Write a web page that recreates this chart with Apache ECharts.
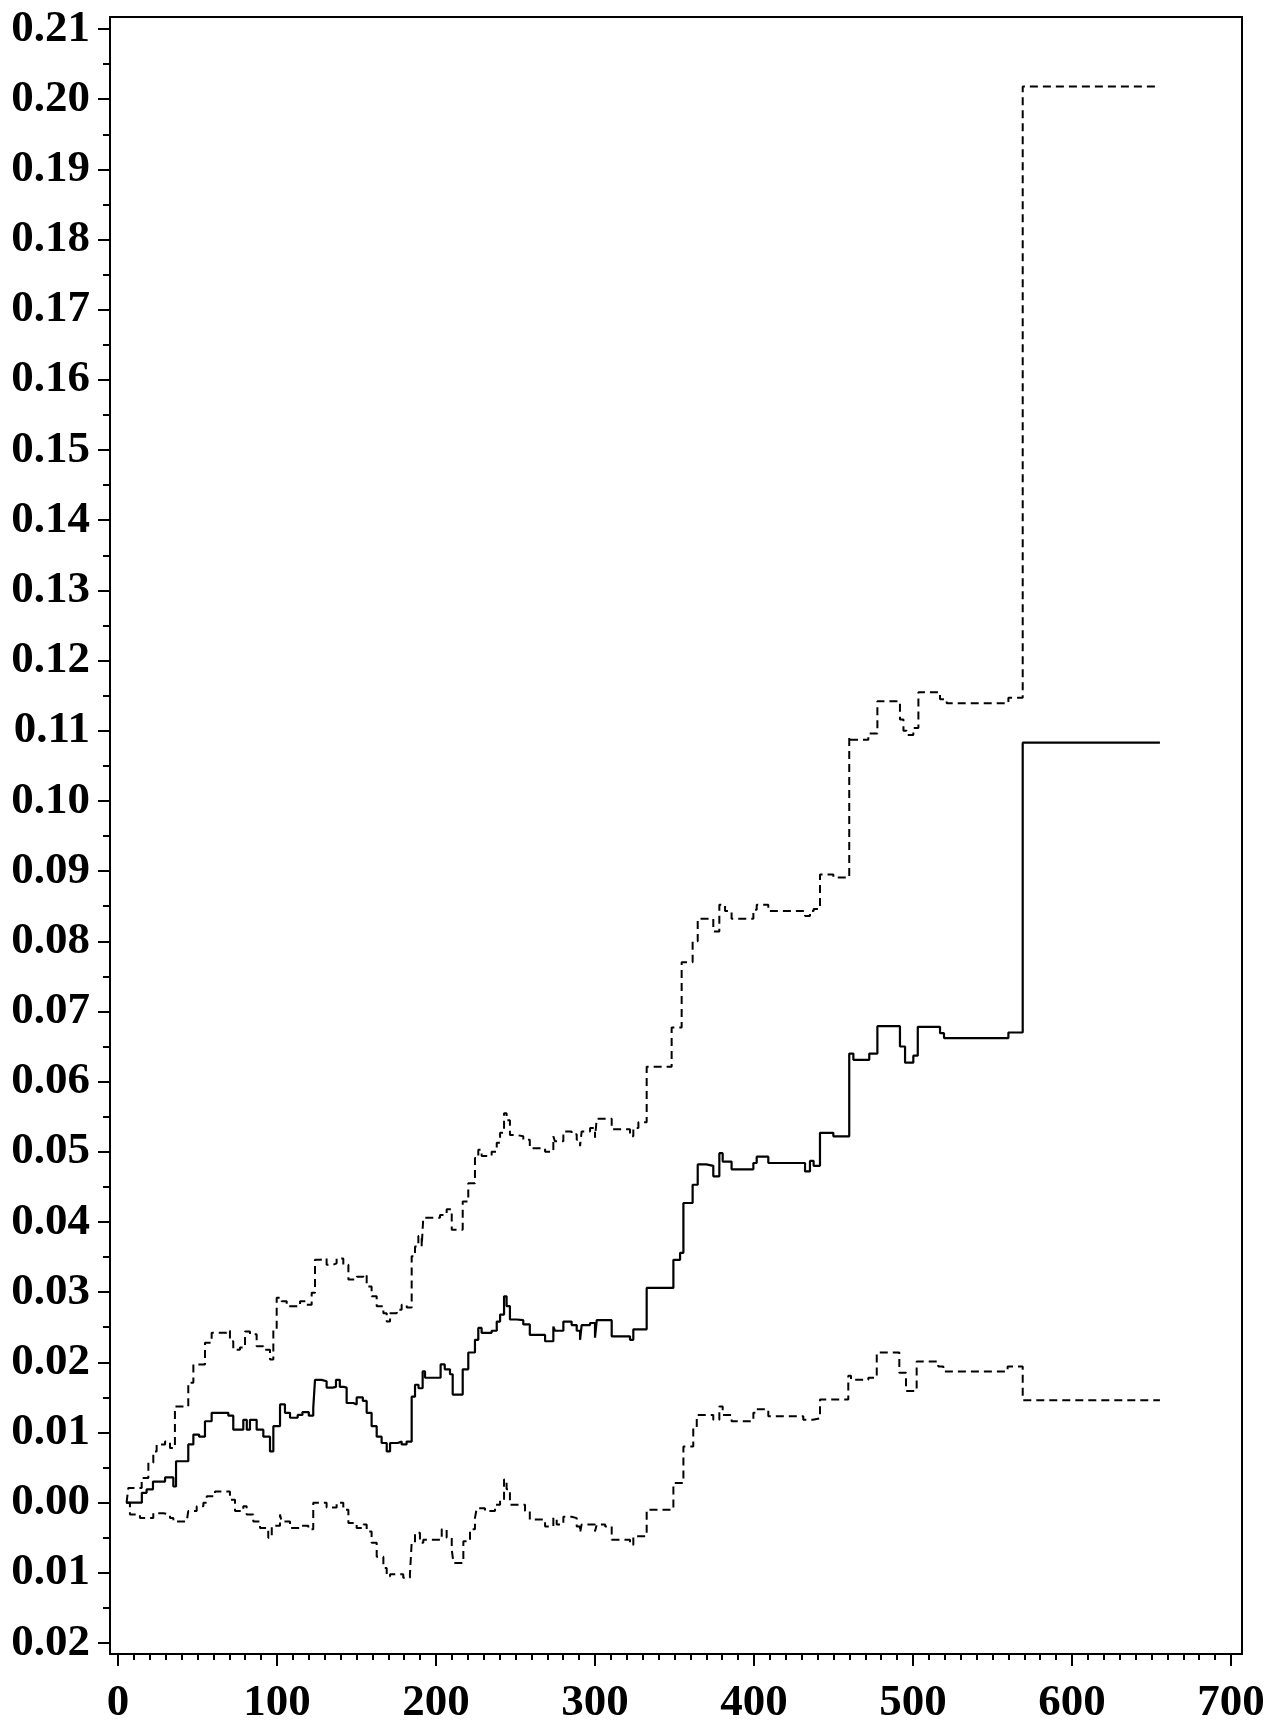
<!DOCTYPE html>
<html>
<head>
<meta charset="utf-8">
<script src="https://cdn.jsdelivr.net/npm/echarts@6/dist/echarts.min.js"></script>
<style>
html,body{margin:0;padding:0;background:#fff;}
#chart{width:1288px;height:1734px;}
</style>
</head>
<body>
<div id="chart"></div>
<script>
// x-axis range / ticks
const xMin = 0, xMax = 700, xStep = 100;
const yMin = -0.02, yMax = 0.21, yStep = 0.01;

// estimate (solid) : [time, value], value holds from time until next time
const estimate = [
  [5, 0.0000],[15, 0.0014],[18, 0.0019],[22, 0.0030],[29.6, 0.0036],[34.8, 0.0023],
  [36.5, 0.0059],[44.2, 0.0083],[47.4, 0.0097],[51, 0.0094],[54.7, 0.0116],[58.9, 0.0128],
  [69.4, 0.0124],[72.5, 0.0104],[78.8, 0.0118],[81, 0.0104],[83, 0.0118],[87.2, 0.0104],
  [91.4, 0.0094],[95.6, 0.0073],[97.7, 0.0109],[101.9, 0.0140],[105, 0.0128],[108.2, 0.0121],
  [113, 0.0125],[116, 0.0129],[120, 0.0124],[122.8, 0.0135],[123.9, 0.0175],[128, 0.0173],
  [131.2, 0.0164],[135, 0.0165],[137.1, 0.0175],[139.5, 0.0165],[142, 0.0164],[143.8, 0.0142],
  [148, 0.0140],[150.1, 0.0150],[154, 0.0145],[156.4, 0.0128],[159.5, 0.0109],[162.7, 0.0094],
  [165.8, 0.0085],[169, 0.0073],[171.1, 0.0085],[176, 0.0087],[178.4, 0.0083],[181.5, 0.0087],
  [184.7, 0.0151],[186.8, 0.0168],[189, 0.0163],[191.6, 0.0187],[193.1, 0.0178],[202.9, 0.0197],
  [205.5, 0.0190],[208.8, 0.0183],[210.5, 0.0154],[216.8, 0.0190],[220.3, 0.0214],[224.5, 0.0232],
  [226.6, 0.0249],[228.7, 0.0242],[235, 0.0245],[238.2, 0.0258],[240.3, 0.0268],[242.8, 0.0294],
  [244.4, 0.0280],[246.5, 0.0261],[250.7, 0.0260],[254.9, 0.0254],[259, 0.0239],[268.6, 0.0230],
  [273.8, 0.0251],[274.8, 0.0245],[280.1, 0.0258],[285.3, 0.0253],[288.5, 0.0245],[290.6, 0.0232],
  [291.6, 0.0253],[296.9, 0.0256],[300, 0.0235],[301.1, 0.0260],[310.5, 0.0237],[322, 0.0232],
  [324.1, 0.0247],[332.5, 0.0306],[349.3, 0.0346],[353.5, 0.0356],[355.6, 0.0427],[361.4, 0.0453],
  [364.6, 0.0482],[370, 0.0480],[374.4, 0.0465],[378.2, 0.0498],[380.3, 0.0486],[385.9, 0.0475],
  [399.6, 0.0484],[401.7, 0.0493],[409, 0.0484],[432.1, 0.0472],[435.2, 0.0487],[437.5, 0.0480],
  [441.5, 0.0527],[449.9, 0.0522],[459.9, 0.0640],[462.5, 0.0631],[472.5, 0.0640],[477.6, 0.0679],
  [491.8, 0.0650],[495, 0.0627],[500.2, 0.0637],[503, 0.0678],[517, 0.0669],[519.5, 0.0662],
  [560, 0.0670],[569, 0.1083],[655.3, 0.1083]
];

// upper confidence limit (dashed)
const upper = [
  [5.4, 0.0000],[6.5, 0.0021],[14.9, 0.0035],[19.1, 0.0057],[22.2, 0.0073],[24.3, 0.0083],
  [29.6, 0.0087],[32.7, 0.0078],[35.8, 0.0137],[44.2, 0.0171],[47.4, 0.0197],[54.7, 0.0228],
  [58.9, 0.0242],[68.3, 0.0245],[70.4, 0.0230],[72.5, 0.0218],[76.7, 0.0221],[79.9, 0.0244],
  [83, 0.0240],[87.2, 0.0223],[91.4, 0.0218],[95.6, 0.0204],[97.7, 0.0247],[99.8, 0.0292],
  [102.9, 0.0287],[106.1, 0.0280],[114.5, 0.0287],[118.7, 0.0282],[121.8, 0.0299],[123.9, 0.0346],
  [127, 0.0348],[131.2, 0.0339],[135.4, 0.0341],[137.5, 0.0348],[141.7, 0.0339],[144.9, 0.0318],
  [150.1, 0.0322],[154.3, 0.0325],[156.4, 0.0308],[159.5, 0.0294],[162.7, 0.0280],[166.9, 0.0270],
  [169, 0.0258],[171.1, 0.0270],[175.3, 0.0275],[178.4, 0.0282],[181.6, 0.0278],[184.7, 0.0351],
  [186.8, 0.0365],[188.9, 0.0380],[191, 0.0365],[192, 0.0406],[202.5, 0.0410],[206.7, 0.0418],
  [209.9, 0.0389],[216.8, 0.0429],[220.3, 0.0455],[224.5, 0.0491],[226.6, 0.0503],[228.7, 0.0494],
  [235, 0.0500],[238.2, 0.0513],[240.3, 0.0527],[242.8, 0.0555],[244.4, 0.0545],[246.5, 0.0524],
  [250.7, 0.0522],[254.9, 0.0517],[259, 0.0505],[268.6, 0.0500],[273.8, 0.0522],[274.8, 0.0515],
  [280.1, 0.0529],[285.3, 0.0525],[288.5, 0.0517],[290.6, 0.0508],[291.6, 0.0529],[296.9, 0.0534],
  [300, 0.0520],[301.1, 0.0547],[310.5, 0.0532],[322, 0.0522],[324.1, 0.0534],[327.3, 0.0542],
  [332.5, 0.0621],[348.2, 0.0677],[354.5, 0.0770],[361.4, 0.0800],[364.6, 0.0832],[374.4, 0.0814],
  [378.2, 0.0852],[381.8, 0.0843],[385.9, 0.0832],[399.6, 0.0845],[401.7, 0.0852],[409, 0.0843],
  [432.1, 0.0836],[435.2, 0.0843],[437.5, 0.0846],[441.5, 0.0895],[449.9, 0.0891],[459.9, 0.1092],
  [460.5, 0.1087],[471.9, 0.1096],[477.6, 0.1142],[491.8, 0.1116],[494, 0.1100],[496, 0.1094],
  [500.2, 0.1104],[503.4, 0.1155],[517, 0.1145],[521.2, 0.1139],[560, 0.1147],[569, 0.2018],
  [655.3, 0.2018]
];

// lower confidence limit (dashed)
const lower = [
  [5.4, 0.0000],[7.5, -0.0017],[13.8, -0.0022],[22.2, -0.0015],[28.5, -0.0017],[32.7, -0.0022],
  [34.8, -0.0027],[43.2, -0.0025],[44.2, -0.0012],[49.5, -0.0005],[53.7, 0.0000],[55.8, 0.0009],
  [61, 0.0016],[70.4, 0.0004],[73.6, -0.0012],[78.8, -0.0005],[80.9, -0.0017],[85.1, -0.0027],
  [89.3, -0.0036],[94.5, -0.0050],[96.7, -0.0033],[101.9, -0.0017],[102.9, -0.0027],[108.2, -0.0036],
  [114.5, -0.0033],[119.7, -0.0038],[122.8, 0.0000],[131.2, -0.0007],[137.5, 0.0000],[141.7, -0.0010],
  [144.9, -0.0029],[150.1, -0.0036],[154.3, -0.0031],[156.4, -0.0041],[159.5, -0.0057],[162.7, -0.0077],
  [166.9, -0.0093],[169, -0.0105],[171.1, -0.0102],[179.4, -0.0107],[183.6, -0.0102],[184.7, -0.0057],
  [186.8, -0.0043],[189.9, -0.0057],[192, -0.0053],[203.6, -0.0038],[206.7, -0.0050],[209.9, -0.0067],
  [211, -0.0086],[217.2, -0.0055],[221.4, -0.0038],[224.5, -0.0022],[225.6, -0.0008],[230.8, -0.0012],
  [237.1, -0.0003],[240.3, 0.0004],[242.8, 0.0033],[244.4, 0.0019],[246.5, -0.0003],[256, -0.0012],
  [259, -0.0024],[268.6, -0.0034],[273.8, -0.0022],[275.9, -0.0031],[280.1, -0.0020],[285.3, -0.0022],
  [288.5, -0.0034],[290.6, -0.0043],[291.6, -0.0031],[300, -0.0041],[301.1, -0.0031],[306.4, -0.0034],
  [310.5, -0.0053],[322, -0.0060],[324.1, -0.0048],[332.5, -0.0010],[349.3, 0.0028],[355.6, 0.0080],
  [361.8, 0.0106],[364, 0.0125],[374.4, 0.0118],[378.2, 0.0137],[380.3, 0.0125],[385.9, 0.0116],
  [399.6, 0.0128],[401.7, 0.0133],[409, 0.0123],[431, 0.0118],[437, 0.0120],[441.5, 0.0147],
  [459.3, 0.0181],[461, 0.0175],[471.9, 0.0178],[477.2, 0.0214],[491.4, 0.0185],[495.6, 0.0159],
  [502.3, 0.0201],[515.9, 0.0194],[519.1, 0.0187],[559.5, 0.0194],[569, 0.0146],[655.3, 0.0146]
];

const FONT = '"Liberation Serif", "Times New Roman", serif';
const chart = echarts.init(document.getElementById('chart'), null, {renderer: 'canvas'});

chart.setOption({
  animation: false,
  backgroundColor: '#ffffff',
  grid: [
    // frame box
    {left: 110, right: 46, top: 17, bottom: 80, show: true, borderColor: '#000', borderWidth: 2, backgroundColor: 'transparent'},
    // data / tick grid
    {left: 118, right: 57, top: 29, bottom: 91}
  ],
  xAxis: [
    {gridIndex: 0, type: 'value', min: 0, max: 1, show: false},
    {
      gridIndex: 1, type: 'value', min: xMin, max: xMax, interval: xStep,
      position: 'bottom', offset: 11,
      axisLine: {show: false, onZero: false},
      axisTick: {show: true, length: 12, inside: false, lineStyle: {color: '#000', width: 2}},
      minorTick: {show: true, splitNumber: 10, length: 6, lineStyle: {color: '#000', width: 2}},
      splitLine: {show: false},
      axisLabel: {show: true, margin: 27, color: '#000', fontFamily: FONT, fontWeight: 'bold', fontSize: 45}
    }
  ],
  yAxis: [
    {gridIndex: 0, type: 'value', min: 0, max: 1, show: false},
    {
      gridIndex: 1, type: 'value', min: yMin, max: yMax, interval: yStep,
      position: 'left', offset: 8,
      axisLine: {show: false, onZero: false},
      axisTick: {show: true, length: 12, lineStyle: {color: '#000', width: 2}},
      minorTick: {show: true, splitNumber: 2, length: 7, lineStyle: {color: '#000', width: 2}},
      splitLine: {show: false},
      axisLabel: {
        show: true, margin: 20, color: '#000', fontFamily: FONT, fontWeight: 'bold', fontSize: 45,
        formatter: v => Math.abs(v).toFixed(2)
      }
    }
  ],
  series: [
    {
      type: 'line', xAxisIndex: 1, yAxisIndex: 1, step: 'end', data: upper,
      showSymbol: false, silent: true, clip: false,
      lineStyle: {color: '#000', width: 2, type: [8, 5]}
    },
    {
      type: 'line', xAxisIndex: 1, yAxisIndex: 1, step: 'end', data: lower,
      showSymbol: false, silent: true, clip: false,
      lineStyle: {color: '#000', width: 2, type: [8, 5]}
    },
    {
      type: 'line', xAxisIndex: 1, yAxisIndex: 1, step: 'end', data: estimate,
      showSymbol: false, silent: true, clip: false,
      lineStyle: {color: '#000', width: 2.2, type: 'solid'}
    }
  ]
});
</script>
</body>
</html>
